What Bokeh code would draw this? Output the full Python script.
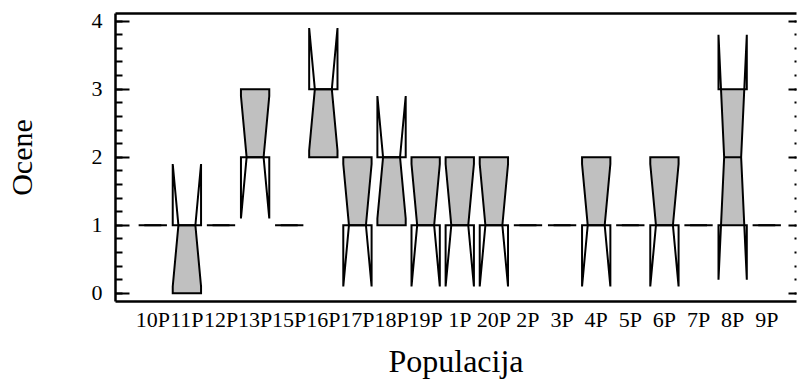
from bokeh.plotting import figure
from bokeh.models import (Range1d, LinearAxis, FixedTicker, SingleIntervalTicker,
                          CustomLabelingPolicy)
from bokeh.embed import file_html
from bokeh.resources import INLINE

# ---- data ----
categories = ["10P", "11P", "12P", "13P", "15P", "16P", "17P", "18P", "19P", "1P",
              "20P", "2P", "3P", "4P", "5P", "6P", "7P", "8P", "9P"]
q1       = [1, 0,   1, 2,   1, 2,   1,   1,   1,   1,   1,   1, 1, 1,   1, 1,   1, 1,   1]
median   = [1, 1,   1, 2,   1, 3,   1,   2,   1,   1,   1,   1, 1, 1,   1, 1,   1, 2,   1]
q3       = [1, 1,   1, 3,   1, 3,   2,   2,   2,   2,   2,   1, 1, 2,   1, 2,   1, 3,   1]
notch_lo = [1, 0.1, 1, 1.1, 1, 2.1, 0.1, 1.1, 0.1, 0.1, 0.1, 1, 1, 0.1, 1, 0.1, 1, 0.2, 1]
notch_hi = [1, 1.9, 1, 2.9, 1, 3.9, 1.9, 2.9, 1.9, 1.9, 1.9, 1, 1, 1.9, 1, 1.9, 1, 3.8, 1]

FONT = "Liberation Serif"
HALF_W = 0.415      # half box width (x units)
NOTCH_RATIO = 0.6   # notch width relative to box width

positions = list(range(len(categories)))

p = figure(width=800, height=381, output_backend="svg", toolbar_location=None,
           x_range=Range1d(-1.093, 18.872), y_range=Range1d(-0.121, 4.113),
           min_border_left=115, min_border_right=0, min_border_top=13, min_border_bottom=78,
           background_fill_color="white", border_fill_color="white")
p.outline_line_color = None
p.xgrid.grid_line_color = None
p.ygrid.grid_line_color = None

# ---- build notched boxes ----
fill_xs, fill_ys, out_xs, out_ys = [], [], [], []
med_x0, med_x1, med_y = [], [], []
for x, a, m, b, lo, hi in zip(positions, q1, median, q3, notch_lo, notch_hi):
    fw = HALF_W
    nw = HALF_W * NOTCH_RATIO
    L, R, nL, nR = x - fw, x + fw, x - nw, x + nw
    out_xs.append([L, L, nL, L, L, R, R, nR, R, R])
    out_ys.append([a, lo, m, hi, b, b, hi, m, lo, a])
    med_x0.append(nL); med_x1.append(nR); med_y.append(m)
    if b > a:
        d_lo = m - lo
        d_hi = hi - m
        def w(y):
            if y < m:
                return nw + (fw - nw) * min(1.0, (m - y) / d_lo) if d_lo > 0 else fw
            if y > m:
                return nw + (fw - nw) * min(1.0, (y - m) / d_hi) if d_hi > 0 else fw
            return nw
        ys = sorted(set(v for v in [a, lo, m, hi, b] if a <= v <= b))
        xs_left = [x - w(v) for v in ys]
        xs_right = [x + w(v) for v in reversed(ys)]
        fill_xs.append(xs_left + xs_right)
        fill_ys.append(ys + list(reversed(ys)))

p.patches(fill_xs, fill_ys, fill_color="#C0C0C0", line_color=None)
p.patches(out_xs, out_ys, fill_color=None, line_color="black", line_width=2,
          line_join="miter")
p.segment(x0=med_x0, x1=med_x1, y0=med_y, y1=med_y, line_color="black", line_width=2)

# ---- axes ----
yax = p.yaxis[0]
yax.ticker = SingleIntervalTicker(interval=1, num_minor_ticks=5)
yax.axis_line_width = 2.5
yax.major_tick_in = 14
yax.major_tick_out = 0
yax.minor_tick_in = 7
yax.minor_tick_out = 0
yax.major_tick_line_width = 2
yax.minor_tick_line_width = 2
yax.major_label_text_font = FONT
yax.major_label_text_font_size = "22px"
yax.major_label_text_color = "black"
yax.major_label_standoff = 13
yax.axis_label = "Ocene"
yax.axis_label_text_font = FONT
yax.axis_label_text_font_size = "30px"
yax.axis_label_text_font_style = "normal"
yax.axis_label_text_color = "black"
yax.axis_label_standoff = 51

xax = p.xaxis[0]
xax.ticker = FixedTicker(ticks=positions)
xax.major_label_overrides = {i: c for i, c in zip(positions, categories)}
xax.axis_line_width = 2.5
xax.major_tick_in = 0
xax.major_tick_out = 0
xax.minor_tick_line_color = None
xax.major_tick_line_color = None
xax.major_label_text_font = FONT
xax.major_label_text_font_size = "22px"
xax.major_label_text_color = "black"
xax.major_label_standoff = 5
xax.axis_label = "Populacija"
xax.axis_label_text_font = FONT
xax.axis_label_text_font_size = "32px"
xax.axis_label_text_font_style = "normal"
xax.axis_label_text_color = "black"
xax.axis_label_standoff = 8

top = LinearAxis(ticker=FixedTicker(ticks=[]), axis_line_width=2.5,
                 major_tick_in=0, major_tick_out=0, minor_tick_in=0, minor_tick_out=0,
                 major_label_text_font_size="0px", major_label_standoff=0)
p.add_layout(top, "above")

no_labels = CustomLabelingPolicy(code="return new Set()")
right = LinearAxis(ticker=SingleIntervalTicker(interval=1, num_minor_ticks=5),
                   axis_line_color=None, major_tick_in=8, major_tick_out=0,
                   minor_tick_in=2, minor_tick_out=0, major_tick_line_width=2,
                   minor_tick_line_width=2, major_label_policy=no_labels,
                   major_label_text_font_size="1px", major_label_standoff=0)
p.add_layout(right, "right")

open("out.html", "w").write(file_html(p, INLINE))
